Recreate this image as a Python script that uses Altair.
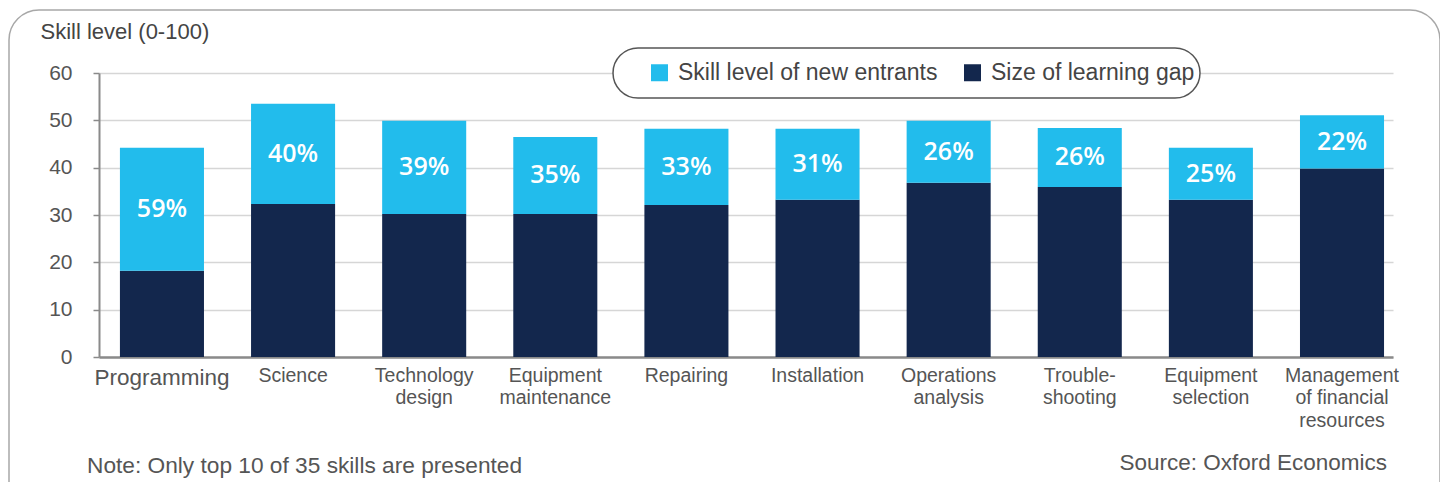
import altair as alt
import pandas as pd

# ---- data ----
skills = ["Programming", "Science", "Technology|design", "Equipment|maintenance",
          "Repairing", "Installation", "Operations|analysis", "Trouble-|shooting",
          "Equipment|selection", "Management|of financial|resources"]
learning_gap = [18.2, 32.3, 30.2, 30.2, 32.1, 33.2, 36.8, 35.9, 33.2, 39.8]
new_entrants = [26.0, 21.2, 19.7, 16.3, 16.1, 15.0, 13.1, 12.5, 11.0, 11.3]
pct_labels = ["59%", "40%", "39%", "35%", "33%", "31%", "26%", "26%", "25%", "22%"]
series = ["Skill level of new entrants", "Size of learning gap"]
colors = ["#22BCEC", "#13274D"]
y_ticks = [0, 10, 20, 30, 40, 50, 60]
note_text = "Note: Only top 10 of 35 skills are presented"
source_text = "Source: Oxford Economics"
y_title = "Skill level (0-100)"

FONT = "Liberation Sans"
TXT = "#555555"

rows = []
for s, g, n in zip(skills, learning_gap, new_entrants):
    rows.append({"skill": s, "series": series[1], "value": g, "ord": 0})
    rows.append({"skill": s, "series": series[0], "value": n, "ord": 1})
long_df = pd.DataFrame(rows)
wide_df = pd.DataFrame({"skill": skills, "gap": learning_gap, "new": new_entrants, "pct": pct_labels})

x_scale = alt.Scale(domain=skills, paddingInner=0.359, paddingOuter=0.114, align=0.7)
y_scale = alt.Scale(domain=[0, 60])

x_axis = alt.Axis(
    title=None, labelAngle=0, ticks=False,
    labelExpr="split(datum.label, '|')",
    labelFontSize={"condition": {"test": "datum.value === 'Programming'", "value": 22.5}, "value": 19.5},
    labelColor=TXT, labelFont=FONT, labelBaseline="top", labelPadding=9,
    labelLineHeight=22.5, labelLimit=300,
    domainColor="#8a8a8a", domainWidth=2.5, grid=False,
)
y_axis = alt.Axis(
    values=y_ticks, title=y_title, titleAngle=0, titleAlign="left",
    titleX=-59, titleY=-35, titleBaseline="alphabetic", titleFontSize=22,
    titleFontWeight="normal", titleColor="#444444", titleFont=FONT,
    labelFontSize=21, labelColor=TXT, labelFont=FONT, labelPadding=21,
    tickSize=6, tickColor="#8a8a8a", tickWidth=1.5,
    domainColor="#8a8a8a", domainWidth=2,
    gridColor="#d6d6d6", gridWidth=1.5,
)

base_dummy = pd.DataFrame({"d": [0]})

border = alt.Chart(base_dummy).mark_rect(
    fillOpacity=0, stroke="#a8a8a8", strokeWidth=1.5, cornerRadius=30
).encode(x=alt.value(-90), x2=alt.value(1341), y=alt.value(-63), y2=alt.value(520))

bars = alt.Chart(long_df).mark_bar().encode(
    x=alt.X("skill:N", sort=skills, scale=x_scale, axis=x_axis),
    y=alt.Y("value:Q", stack="zero", scale=y_scale, axis=y_axis),
    color=alt.Color("series:N", scale=alt.Scale(domain=series, range=colors),
                    legend=alt.Legend(title=None, orient="none", legendX=549, legendY=-12,
                                      direction="horizontal", symbolType="square",
                                      symbolSize=289, symbolStrokeWidth=0,
                                      labelFontSize=23, labelColor="#444444", labelFont=FONT,
                                      labelOffset=7, columnPadding=23, padding=0,
                                      labelLimit=400)),
    order=alt.Order("ord:Q"),
)

labels = alt.Chart(wide_df).transform_calculate(
    mid="datum.gap + datum.new / 2"
).mark_text(
    color="white", font="Open Sans", fontWeight=600, fontSize=25, baseline="middle", align="center"
).encode(
    x=alt.X("skill:N", sort=skills, scale=x_scale),
    y=alt.Y("mid:Q", scale=y_scale),
    text="pct:N",
)

legend_box = alt.Chart(base_dummy).mark_rect(
    fill="white", stroke="#555555", strokeWidth=1.5, cornerRadius=25
).encode(x=alt.value(514), x2=alt.value(1101), y=alt.value(-25), y2=alt.value(25))

note = alt.Chart(pd.DataFrame({"t": [note_text]})).mark_text(
    align="left", baseline="alphabetic", fontSize=22.7, font=FONT, color=TXT
).encode(x=alt.value(-12), y=alt.value(400), text="t:N")

source = alt.Chart(pd.DataFrame({"t": [source_text]})).mark_text(
    align="right", baseline="alphabetic", fontSize=22.5, font=FONT, color=TXT
).encode(x=alt.value(1288), y=alt.value(397), text="t:N")

chart = alt.layer(border, bars, labels, legend_box, note, source).properties(
    width=1294, height=284,
    autosize=alt.AutoSizeParams(type="none"),
    padding={"left": 91, "top": 65, "right": 47, "bottom": 125},
    background="white",
).configure_view(stroke=None)

chart.save("out.html", embed_options={"renderer": "svg", "actions": False})
